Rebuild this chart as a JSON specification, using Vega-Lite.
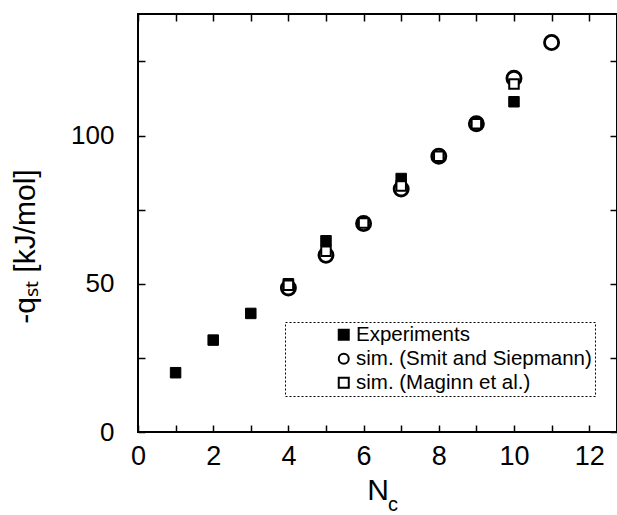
{
  "$schema": "https://vega.github.io/schema/vega-lite/v6.json",
  "width": 479,
  "height": 418,
  "autosize": {"type": "none"},
  "padding": {"left": 138, "top": 14, "right": 0, "bottom": 83},
  "background": "white",
  "config": {
    "font": "Liberation Sans",
    "view": {"stroke": "black", "strokeWidth": 2},
    "axis": {"grid": false, "domain": false, "tickColor": "black", "tickWidth": 1.5, "labelColor": "black", "titleColor": "black", "labelFont": "Liberation Sans", "titleFont": "Liberation Sans", "titleFontWeight": "normal", "labelFlush": false, "labelOverlap": false},
    "legend": {"strokeColor": "black", "strokeDash": [2, 2], "strokeWidth": 1, "padding": 2.5, "symbolOffset": 46, "labelFontSize": 20.5, "labelFont": "Liberation Sans", "labelColor": "black", "labelLimit": 400, "rowPadding": 3, "labelOffset": 2, "symbolSize": 100, "symbolStrokeWidth": 2, "symbolStrokeColor": "black", "fillColor": "white"}
  },
  "datasets": {
    "pts": [
      {"series": "Experiments", "n": 1, "q": 20},
      {"series": "Experiments", "n": 2, "q": 31},
      {"series": "Experiments", "n": 3, "q": 40},
      {"series": "Experiments", "n": 4, "q": 50},
      {"series": "Experiments", "n": 5, "q": 64.5},
      {"series": "Experiments", "n": 6, "q": 70},
      {"series": "Experiments", "n": 7, "q": 85.5},
      {"series": "Experiments", "n": 8, "q": 93},
      {"series": "Experiments", "n": 9, "q": 104},
      {"series": "Experiments", "n": 10, "q": 111.4},
      {"series": "sim. (Smit and Siepmann)", "n": 4, "q": 48.6},
      {"series": "sim. (Smit and Siepmann)", "n": 5, "q": 59.6},
      {"series": "sim. (Smit and Siepmann)", "n": 6, "q": 70.3},
      {"series": "sim. (Smit and Siepmann)", "n": 7, "q": 82},
      {"series": "sim. (Smit and Siepmann)", "n": 8, "q": 93},
      {"series": "sim. (Smit and Siepmann)", "n": 9, "q": 104},
      {"series": "sim. (Smit and Siepmann)", "n": 10, "q": 119.3},
      {"series": "sim. (Smit and Siepmann)", "n": 11, "q": 131.4},
      {"series": "sim. (Maginn et al.)", "n": 4, "q": 49.5},
      {"series": "sim. (Maginn et al.)", "n": 5, "q": 61},
      {"series": "sim. (Maginn et al.)", "n": 6, "q": 70.5},
      {"series": "sim. (Maginn et al.)", "n": 7, "q": 83},
      {"series": "sim. (Maginn et al.)", "n": 8, "q": 93},
      {"series": "sim. (Maginn et al.)", "n": 9, "q": 104},
      {"series": "sim. (Maginn et al.)", "n": 10, "q": 117.4}
    ],
    "sub": [{"n": 6.78, "q": -24.5, "t": "c"}]
  },
  "resolve": {"axis": {"x": "independent", "y": "independent"}},
  "layer": [
    {
      "data": {"name": "pts"},
      "transform": [{"filter": "datum.series == 'Experiments'"}],
      "mark": {"type": "point", "size": 110, "strokeWidth": 1, "opacity": 1},
      "encoding": {
        "x": {"field": "n", "type": "quantitative", "scale": {"domain": [0, 12.74], "nice": false, "zero": false},
          "axis": {"orient": "bottom", "values": [0,1,2,3,4,5,6,7,8,9,10,11,12], "labelExpr": "datum.value % 2 == 0 ? datum.label : ''", "tickSize": -7, "labelFontSize": 27, "labelPadding": 18, "title": "N", "titleFontSize": 30, "titlePadding": 6}},
        "y": {"field": "q", "type": "quantitative", "scale": {"domain": [0, 141], "nice": false, "zero": false},
          "axis": {"orient": "left", "values": [0,25,50,75,100,125], "labelExpr": "datum.value % 50 == 0 ? datum.label : ''", "tickSize": -7, "labelFontSize": 26, "labelPadding": 31, "title": "-qₛₜ [kJ/mol]", "titleFontSize": 30, "titlePadding": 30, "titleY": 232}},
        "shape": {"field": "series", "type": "nominal", "scale": {"domain": ["Experiments", "sim. (Smit and Siepmann)", "sim. (Maginn et al.)"], "range": ["square", "circle", "square"]},
          "legend": {"title": null, "orient": "none", "legendX": 147, "legendY": 308, "encode": {"labels": {"update": {"text": {"signal": "datum.label + '\u2003'"}}}}}},
        "fill": {"field": "series", "type": "nominal", "scale": {"domain": ["Experiments", "sim. (Smit and Siepmann)", "sim. (Maginn et al.)"], "range": ["black", "white", "white"]},
          "legend": {"title": null, "orient": "none", "legendX": 147, "legendY": 308, "encode": {"labels": {"update": {"text": {"signal": "datum.label + '\u2003'"}}}}}},
        "stroke": {"field": "series", "type": "nominal", "scale": {"domain": ["Experiments", "sim. (Smit and Siepmann)", "sim. (Maginn et al.)"], "range": ["black", "black", "black"]},
          "legend": {"title": null, "orient": "none", "legendX": 147, "legendY": 308, "encode": {"labels": {"update": {"text": {"signal": "datum.label + '\u2003'"}}}}}}
      }
    },
    {
      "data": {"name": "pts"},
      "transform": [{"filter": "datum.series == 'sim. (Smit and Siepmann)'"}],
      "mark": {"type": "point", "size": 200, "strokeWidth": 2.8, "opacity": 1},
      "encoding": {
        "x": {"field": "n", "type": "quantitative",
          "axis": {"orient": "top", "values": [0,1,2,3,4,5,6,7,8,9,10,11,12], "labels": false, "tickSize": -7, "title": null}},
        "y": {"field": "q", "type": "quantitative",
          "axis": {"orient": "right", "values": [0,25,50,75,100,125], "labels": false, "tickSize": -7, "title": null}},
        "shape": {"field": "series", "type": "nominal"},
        "fill": {"field": "series", "type": "nominal"},
        "stroke": {"field": "series", "type": "nominal"}
      }
    },
    {
      "data": {"name": "pts"},
      "transform": [{"filter": "datum.series == 'sim. (Maginn et al.)'"}],
      "mark": {"type": "point", "size": 90, "strokeWidth": 2, "opacity": 1},
      "encoding": {
        "x": {"field": "n", "type": "quantitative", "axis": null},
        "y": {"field": "q", "type": "quantitative", "axis": null},
        "shape": {"field": "series", "type": "nominal"},
        "fill": {"field": "series", "type": "nominal"},
        "stroke": {"field": "series", "type": "nominal"}
      }
    },
    {
      "data": {"name": "sub"},
      "mark": {"type": "text", "fontSize": 20, "font": "Liberation Sans", "color": "black", "align": "center", "baseline": "middle"},
      "encoding": {
        "x": {"field": "n", "type": "quantitative", "axis": null},
        "y": {"field": "q", "type": "quantitative", "axis": null},
        "text": {"field": "t"}
      }
    }
  ]
}
